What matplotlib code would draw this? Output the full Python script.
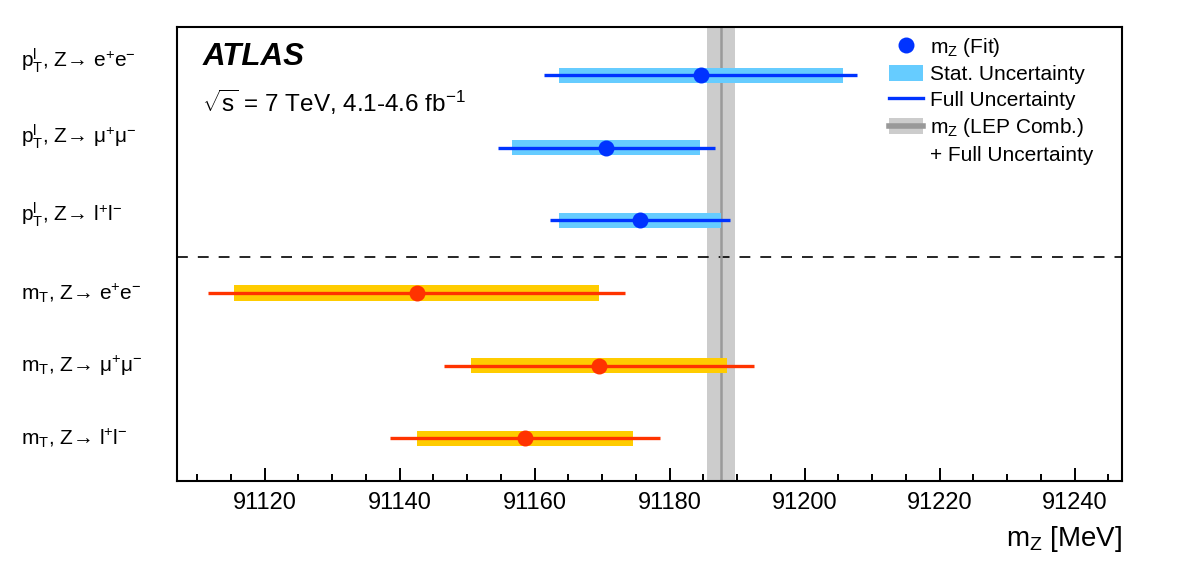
import matplotlib
matplotlib.use('Agg')
import matplotlib.pyplot as plt
from matplotlib.patches import Patch
from matplotlib.lines import Line2D
from matplotlib.transforms import blended_transform_factory
import numpy as np

plt.rcParams['font.family'] = ['Liberation Sans', 'DejaVu Sans']
plt.rcParams['mathtext.fontset'] = 'custom'
plt.rcParams['mathtext.rm'] = 'Liberation Sans'
plt.rcParams['mathtext.it'] = 'Liberation Sans:italic'
plt.rcParams['mathtext.bf'] = 'Liberation Sans:bold'

# measurements, top to bottom
labels = [r'$\mathregular{p_{T}^{l}}$, Z→ e$^{+}$e$^{-}$',
          r'$\mathregular{p_{T}^{l}}$, Z→ μ$^{+}$μ$^{-}$',
          r'$\mathregular{p_{T}^{l}}$, Z→ l$^{+}$l$^{-}$',
          r'$\mathregular{m_{T}}$, Z→ e$^{+}$e$^{-}$',
          r'$\mathregular{m_{T}}$, Z→ μ$^{+}$μ$^{-}$',
          r'$\mathregular{m_{T}}$, Z→ l$^{+}$l$^{-}$']
mz_fit = [91184.6, 91170.6, 91175.6, 91142.5, 91169.5, 91158.5]
stat_unc = [21.0, 13.9, 12.0, 27.0, 19.0, 16.0]
full_unc = [23.2, 16.1, 13.4, 30.9, 23.0, 20.0]
is_mt = [False, False, False, True, True, True]

lep_mz = 91187.6
lep_unc = 2.1

col_stat = {False: '#66ccff', True: '#ffcc00'}
col_full = {False: '#0033ff', True: '#ff3300'}

fig = plt.figure(figsize=(11.82, 5.67), dpi=100)
ax = fig.add_axes([0.1497, 0.1517, 0.7995, 0.8003])

ypos = np.arange(len(mz_fit), 0, -1)

# LEP band
ax.axvspan(lep_mz - lep_unc, lep_mz + lep_unc, color='#cccccc', lw=0, zorder=1)
ax.axvline(lep_mz, color='#999999', lw=1.8, zorder=1.5)

for i in range(len(mz_fit)):
    m = is_mt[i]
    ax.barh(ypos[i], 2 * stat_unc[i], left=mz_fit[i] - stat_unc[i], height=0.21,
            color=col_stat[m], lw=0, zorder=2)
    ax.plot([mz_fit[i] - full_unc[i], mz_fit[i] + full_unc[i]], [ypos[i], ypos[i]],
            color=col_full[m], lw=2.4, solid_capstyle='butt', zorder=3)
    ax.plot(mz_fit[i], ypos[i], 'o', color=col_full[m], ms=11.5, mec='none', zorder=4)

ax.axhline(3.5, color='black', lw=1.2, ls=(0, (6.5, 6)), zorder=1)

ax.set_xlim(91107, 91247)
ax.set_ylim(0.41, 6.66)
ax.set_yticks([])
ax.set_xticks(np.arange(91120, 91241, 20))
ax.set_xticks(np.arange(91110, 91246, 5), minor=True)
ax.tick_params(axis='x', which='both', direction='in', top=False, labelsize=17, pad=8)
ax.tick_params(axis='x', which='major', length=9.5, width=1.4)
ax.tick_params(axis='x', which='minor', length=5, width=1.4)
for s in ax.spines.values():
    s.set_linewidth(1.5)
ax.set_xlabel(r'$\mathregular{m_{Z}}$ [MeV]', fontsize=20, loc='right', labelpad=7)

# row labels at the left edge of the figure (pT labels sit a bit higher)
label_dy = [0.2, 0.15, 0.08, 0.0, 0.0, 0.0]
tr = blended_transform_factory(fig.transFigure, ax.transData)
for i in range(len(labels)):
    ax.text(0.018, ypos[i] + label_dy[i], labels[i], transform=tr, fontsize=15,
            ha='left', va='center')

ax.text(0.027, 0.934, 'ATLAS', transform=ax.transAxes, fontsize=22.5,
        fontweight='bold', fontstyle='italic', va='center')
ax.text(0.027, 0.835, r'$\mathregular{\sqrt{s}}$ = 7 TeV, 4.1-4.6 fb$^{-1}$',
        transform=ax.transAxes, fontsize=17.5, va='center')

handles = [Line2D([], [], marker='o', color=col_full[False], ls='none', ms=11.5, mec='none'),
           Patch(facecolor=col_stat[False], lw=0),
           Line2D([], [], color=col_full[False], lw=2.4),
           (Patch(facecolor='#cccccc', lw=0), Line2D([], [], color='#999999', lw=4)),
           Patch(facecolor='none', edgecolor='none')]
leg_labels = [r'$\mathregular{m_{Z}}$ (Fit)', 'Stat. Uncertainty', 'Full Uncertainty',
              r'$\mathregular{m_{Z}}$ (LEP Comb.)', '+ Full Uncertainty']
ax.legend(handles, leg_labels, loc='upper left', bbox_to_anchor=(0.745, 1.0),
          frameon=False, fontsize=15, handlelength=1.6, handleheight=0.85,
          handletextpad=0.35, labelspacing=0.3, borderaxespad=0)

fig.savefig('out.png', dpi=100)
